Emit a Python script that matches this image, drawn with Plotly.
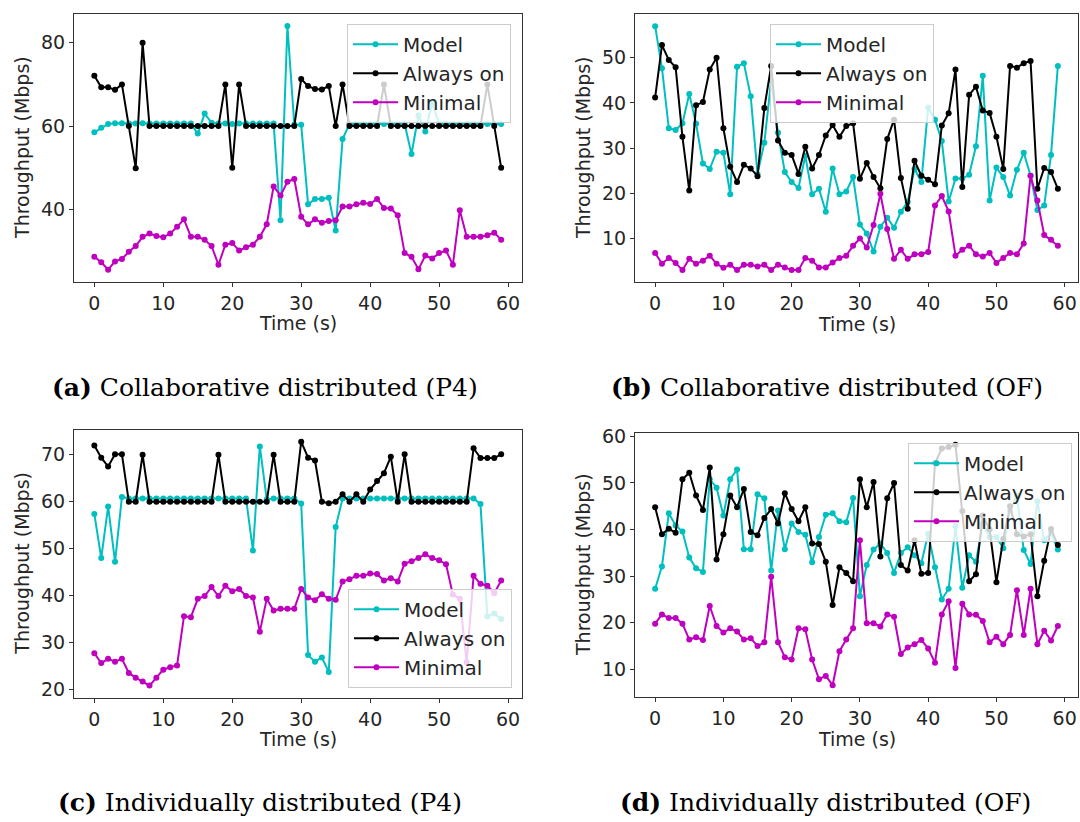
import plotly.graph_objects as go

time_s = list(range(60))

A_model = [58.5, 59.6, 60.5, 60.7, 60.7, 60.6, 60.6, 60.7, 60.6, 60.6,
           60.6, 60.6, 60.6, 60.6, 60.6, 58.2, 63.0, 60.8, 60.6, 60.6,
           60.5, 60.6, 60.6, 60.6, 60.6, 60.6, 60.6, 37.4, 84.0, 60.3,
           60.3, 41.2, 42.5, 42.5, 42.8, 34.9, 56.9, 60.5, 60.5, 60.5,
           60.5, 60.5, 60.5, 60.5, 60.5, 60.5, 53.3, 62.6, 58.7, 65.5,
           60.5, 60.5, 60.5, 60.5, 60.5, 60.5, 60.5, 60.5, 60.5, 60.5]
A_always = [72.1, 69.3, 69.3, 68.7, 70.0, 60.0, 49.9, 80.0, 60, 60,
            60, 60, 60, 60, 60, 60, 60, 60, 60, 70,
            50, 70, 60, 60, 60, 60, 60, 60, 60, 60,
            71.3, 69.6, 68.9, 68.8, 69.6, 60, 70, 60, 60, 60,
            60, 60, 70, 60, 60, 60, 60, 60, 60, 60,
            60, 60, 60, 60, 60, 60, 60, 70, 60, 50]
A_minimal = [28.6, 27.3, 25.5, 27.5, 28.1, 29.8, 31.2, 33.4, 34.2, 33.6,
             33.3, 34.2, 35.8, 37.6, 33.4, 33.4, 32.7, 31.2, 26.7, 31.5,
             31.9, 30.1, 30.9, 31.5, 33.4, 36.4, 45.5, 43.3, 46.6, 47.3,
             38.2, 36.4, 37.6, 36.8, 37.2, 37.4, 40.7, 40.7, 41.2, 41.6,
             41.3, 42.5, 40.3, 40.2, 38.6, 29.5, 28.6, 25.6, 28.9, 28.2,
             29.5, 30.1, 26.7, 39.8, 33.4, 33.4, 33.4, 33.8, 34.4, 32.7]

B_model = [57.0, 47.7, 34.4, 34.0, 35.5, 42.0, 35.4, 26.6, 25.4, 29.2,
           29.0, 19.8, 48.0, 48.8, 41.5, 24.3, 31.2, 45.0, 33.4, 24.7,
           22.5, 21.2, 28.3, 19.8, 21.0, 15.9, 25.5, 19.8, 20.4, 23.6,
           13.1, 11.1, 7.1, 12.6, 14.6, 12.4, 15.9, 18.1, 25.4, 22.5,
           39.0, 36.3, 31.6, 18.2, 23.3, 23.3, 24.1, 30.4, 46.0, 18.4,
           25.7, 23.6, 19.5, 25.2, 29.0, 23.9, 16.3, 17.3, 28.5, 48.2]
B_always = [41.2, 52.8, 49.5, 47.9, 32.5, 20.6, 39.5, 40.2, 47.4, 50.0,
            34.4, 25.9, 22.5, 26.3, 25.5, 23.8, 38.9, 48.2, 31.7, 29.0,
            28.5, 24.3, 30.3, 25.5, 28.5, 32.8, 35.1, 32.5, 34.9, 35.5,
            23.2, 26.7, 23.6, 21.1, 32.0, 36.3, 23.4, 16.6, 27.2, 23.9,
            23.0, 22.0, 35.0, 37.7, 47.4, 21.4, 41.8, 43.6, 38.3, 37.8,
            32.5, 25.4, 48.2, 47.8, 48.8, 49.3, 21.0, 25.6, 24.7, 21.0]
B_minimal = [6.8, 4.4, 5.7, 4.6, 3.0, 5.5, 4.4, 5.1, 6.2, 4.4,
             3.5, 4.2, 3.0, 4.2, 4.2, 3.8, 4.2, 3.0, 4.2, 3.6,
             3.0, 3.0, 5.7, 5.1, 3.6, 3.6, 4.7, 5.7, 6.2, 8.4,
             10.0, 8.0, 13.0, 19.9, 12.1, 5.5, 7.5, 5.5, 6.5, 6.5,
             7.0, 17.3, 19.4, 16.0, 6.2, 7.5, 8.4, 6.5, 6.0, 6.8,
             4.6, 5.7, 6.8, 6.5, 8.9, 23.9, 18.4, 10.8, 9.7, 8.4]

C_model = [57.4, 48.0, 59.0, 47.2, 61.0, 60.7, 60.7, 60.7, 60.7, 60.7,
           60.7, 60.7, 60.7, 60.7, 60.7, 60.7, 60.7, 60.7, 60.7, 60.7,
           60.7, 60.7, 60.7, 49.6, 71.8, 60.5, 60.7, 60.7, 60.7, 60.7,
           59.6, 27.3, 25.9, 26.8, 23.7, 54.6, 60.7, 60.7, 60.7, 60.7,
           60.7, 60.7, 60.7, 60.7, 60.7, 60.7, 60.7, 60.7, 60.7, 60.7,
           60.7, 60.7, 60.7, 60.7, 60.7, 60.7, 59.5, 35.6, 36.2, 35.0]
C_always = [72.0, 69.4, 67.5, 70.1, 70.1, 60, 60, 70, 60, 60,
            60, 60, 60, 60, 60, 60, 60, 60, 70, 60,
            60, 60, 60, 60, 60, 60, 70, 60, 60, 60,
            72.8, 69.4, 68.8, 60, 59.7, 60, 61.6, 60, 61.6, 60,
            62.6, 64.4, 66.1, 69.6, 60, 70.1, 60, 60, 60, 60,
            60, 60, 60, 60, 60, 71.4, 69.3, 69.3, 69.3, 70.1]
C_minimal = [27.7, 25.6, 26.5, 25.9, 26.5, 23.5, 22.5, 21.7, 20.8, 22.5,
             24.2, 24.7, 25.1, 35.6, 35.4, 39.3, 39.9, 41.8, 39.9, 42.1,
             40.9, 41.4, 39.9, 39.6, 32.3, 39.3, 36.8, 37.2, 37.2, 37.2,
             41.4, 39.6, 39.0, 40.3, 39.3, 39.1, 43.0, 43.5, 44.2, 44.2,
             44.7, 44.6, 43.2, 43.7, 43.0, 46.8, 47.3, 48.0, 48.8, 48.0,
             47.5, 46.7, 40.2, 39.3, 25.8, 44.2, 42.5, 42.1, 40.5, 43.2]

D_model = [27.3, 32.1, 43.5, 40.9, 39.6, 34.0, 31.7, 30.9, 50.8, 49.0,
           43.0, 50.8, 52.9, 35.8, 35.8, 47.6, 46.7, 31.2, 44.1, 35.8,
           41.3, 39.5, 38.9, 33.0, 38.4, 43.2, 43.5, 41.8, 41.6, 46.8,
           25.7, 32.4, 35.7, 37.0, 35.0, 30.7, 35.0, 36.2, 34.5, 32.8,
           39.1, 31.9, 25.0, 27.3, 40.7, 27.5, 34.5, 33.1, 41.3, 38.4,
           38.4, 36.0, 44.1, 47.3, 35.6, 32.6, 46.1, 37.7, 39.3, 35.7]
D_always = [44.8, 39.0, 40.2, 39.3, 50.8, 52.2, 47.3, 44.2, 53.3, 33.6,
            39.0, 47.3, 44.8, 48.7, 39.5, 38.8, 42.5, 44.4, 41.3, 47.8,
            44.4, 41.8, 44.8, 37.0, 36.9, 33.1, 23.8, 31.9, 30.7, 28.9,
            50.8, 44.8, 50.2, 34.2, 46.7, 50.0, 32.4, 31.2, 37.7, 30.5,
            30.7, 54.3, 57.4, 57.7, 58.2, 44.0, 28.9, 30.4, 43.0, 40.0,
            28.7, 38.0, 45.0, 39.0, 38.5, 39.0, 25.7, 33.3, 40.1, 36.7]
D_minimal = [19.8, 21.8, 21.0, 21.0, 19.8, 16.4, 16.9, 16.3, 23.6, 19.3,
             17.9, 18.8, 18.1, 16.4, 16.7, 15.0, 15.8, 29.9, 15.8, 12.6,
             12.1, 18.8, 18.6, 12.1, 7.9, 8.6, 6.6, 13.9, 16.4, 18.8,
             37.7, 19.9, 19.9, 19.2, 21.8, 21.3, 13.3, 14.7, 15.4, 16.3,
             14.5, 11.4, 21.8, 24.6, 10.3, 24.1, 21.8, 21.7, 20.4, 15.8,
             17.0, 15.4, 17.4, 27.0, 17.4, 27.3, 15.4, 18.3, 16.2, 19.3]

series_names = ["Model", "Always on", "Minimal"]
series_colors = ["#00BFBF", "#000000", "#BF00BF"]
x_ticks = [0, 10, 20, 30, 40, 50, 60]
y_ticks = {
    "a": [40, 60, 80],
    "b": [10, 20, 30, 40, 50],
    "c": [20, 30, 40, 50, 60, 70],
    "d": [10, 20, 30, 40, 50, 60],
}
captions = {
    "a": "<b>(a)</b> Collaborative distributed (P4)",
    "b": "<b>(b)</b> Collaborative distributed (OF)",
    "c": "<b>(c)</b> Individually distributed (P4)",
    "d": "<b>(d)</b> Individually distributed (OF)",
}
panel_data = {
    "a": [A_model, A_always, A_minimal],
    "b": [B_model, B_always, B_minimal],
    "c": [C_model, C_always, C_minimal],
    "d": [D_model, D_always, D_minimal],
}

W, H = 1080, 822


def px(x):
    return x / W


def py(y):
    return 1 - y / H


# panel boxes in pixels: left, right, top, bottom
boxes = {
    "a": (74, 521.5, 6, 277.3),
    "b": (635, 1078, 6, 277.7),
    "c": (74, 521.5, 426.7, 698.3),
    "d": (635, 1078, 430, 697.7),
}
legend_pos = {
    "a": dict(x=px(511), y=py(16), xanchor="right", yanchor="top"),
    "b": dict(x=px(770), y=py(16), xanchor="left", yanchor="top"),
    "c": dict(x=px(512), y=py(688), xanchor="right", yanchor="bottom"),
    "d": dict(x=px(1072), y=py(440), xanchor="right", yanchor="top"),
}
caption_pos = {"a": (265, 384), "b": (827, 384), "c": (260, 804), "d": (825, 804)}

fig = go.Figure()
layout = dict(
    width=W, height=H,
    margin=dict(l=0, r=0, t=0, b=0),
    paper_bgcolor="white", plot_bgcolor="white",
    font=dict(family="DejaVu Sans", size=19, color="#262626"),
    annotations=[],
)

tick_font = dict(family="DejaVu Sans", size=19, color="#262626")

for i, key in enumerate(["a", "b", "c", "d"]):
    n = "" if i == 0 else str(i + 1)
    xa, ya = "x" + n, "y" + n
    leg = "legend" + n
    l, r, t, b = boxes[key]
    vals = panel_data[key]
    allv = [v for s in vals for v in s]
    lo, hi = min(allv), max(allv)
    pad = 0.05 * (hi - lo)
    xpad = 0.05 * (time_s[-1] - time_s[0])
    for name, color, ys in zip(series_names, series_colors, vals):
        fig.add_trace(go.Scatter(
            x=time_s, y=ys, mode="lines+markers", name=name,
            line=dict(color=color, width=2),
            marker=dict(color=color, size=6),
            xaxis=xa, yaxis=ya, legend=leg,
        ))
    axis_common = dict(
        showline=True, mirror=True, linecolor="#333333", linewidth=1,
        ticks="outside", ticklen=4, tickcolor="#333333", tickwidth=1,
        showgrid=False, zeroline=False, tickfont=tick_font,
    )
    layout["xaxis" + n] = dict(
        domain=[px(l), px(r)], anchor=ya,
        range=[time_s[0] - xpad, time_s[-1] + xpad],
        tickmode="array", tickvals=x_ticks, **axis_common,
    )
    layout["yaxis" + n] = dict(
        domain=[py(b), py(t)], anchor=xa,
        range=[lo - pad, hi + pad],
        tickmode="array", tickvals=y_ticks[key], **axis_common,
    )
    layout[leg] = dict(
        **legend_pos[key],
        bgcolor="rgba(255,255,255,0.8)", bordercolor="#cccccc", borderwidth=1,
        font=dict(family="DejaVu Sans", size=20, color="#262626"),
        itemwidth=45, tracegroupgap=0,
    )
    layout["annotations"].append(dict(
        text="Throughput (Mbps)", textangle=-90, showarrow=False,
        xref="paper", yref="paper", x=px(l - 52), y=py((t + b) / 2),
        xanchor="center", yanchor="middle",
        font=dict(family="DejaVu Sans", size=19, color="#262626"),
    ))
    layout["annotations"].append(dict(
        text="Time (s)", showarrow=False,
        xref="paper", yref="paper", x=px((l + r) / 2), y=py(b + 42),
        xanchor="center", yanchor="middle",
        font=dict(family="DejaVu Sans", size=19, color="#262626"),
    ))
    cx, cy = caption_pos[key]
    layout["annotations"].append(dict(
        text=captions[key], showarrow=False,
        xref="paper", yref="paper", x=px(cx), y=py(cy),
        xanchor="center", yanchor="middle",
        font=dict(family="DejaVu Serif", size=25, color="#000000"),
    ))

fig.update_layout(**layout)
fig.write_html(
    "out.html",
    config={"displayModeBar": False},
    post_script="document.body.style.margin='0';document.body.style.padding='0';"
                "document.documentElement.style.margin='0';"
                "document.body.style.overflow='hidden';",
)
